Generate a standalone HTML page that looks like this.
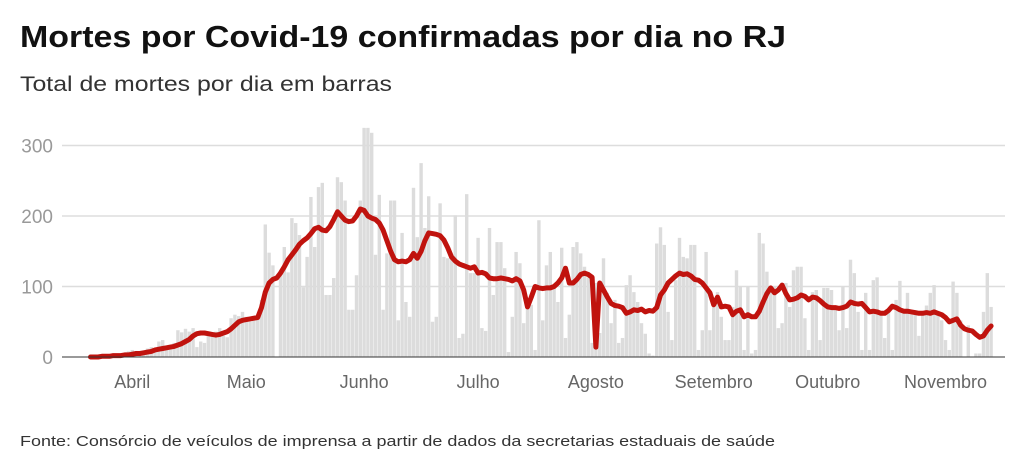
<!DOCTYPE html>
<html><head><meta charset="utf-8">
<style>
body{margin:0;background:#fff;}
svg{display:block;font-family:"Liberation Sans",sans-serif;}
</style></head>
<body>
<svg id="chart" width="1024" height="470">
<text x="20" y="47" font-size="31" font-weight="bold" fill="#111" textLength="766" lengthAdjust="spacingAndGlyphs">Mortes por Covid-19 confirmadas por dia no RJ</text>
<text x="20" y="91" font-size="21" fill="#333" textLength="372" lengthAdjust="spacingAndGlyphs">Total de mortes por dia em barras</text>
<g id="grid"></g><g id="bars"></g><g id="line"></g><g id="axes"></g>
<text x="20" y="446" font-size="15" fill="#333" textLength="755" lengthAdjust="spacingAndGlyphs">Fonte: Consórcio de veículos de imprensa a partir de dados da secretarias estaduais de saúde</text>
</svg>
<script>
const yTicks=[0,100,200,300];
const months=["Abril","Maio","Junho","Julho","Agosto","Setembro","Outubro","Novembro"];
const monthStartDay=[18,48,79,109,140,171,201,232];
const deaths=[0,0,0,0,0,0,0,1,0,1,1,0,1,2,1,2,3,
8,10,6,5,7,12,14,9,22,24,11,15,20,
38,35,40,36,41,14,22,20,35,33,36,41,
30,28,55,60,58,64,57,50,56,58,
81,188,148,130,0,116,156,120,
197,190,173,99,142,227,156,241,247,88,
88,112,255,248,222,67,67,116,222,325,
325,318,145,230,
67,147,222,222,52,176,78,57,240,170,
275,183,228,50,57,218,142,140,140,201,
27,33,231,119,119,169,41,37,183,88,
163,163,126,7,57,149,133,48,74,74,
10,194,52,130,149,102,78,155,27,60,
156,163,147,128,113,20,105,34,140,91,
48,81,20,27,102,116,92,78,48,33,
5,2,161,184,159,64,24,109,169,142,
140,159,159,10,38,149,38,71,92,57,
24,24,71,123,100,10,100,5,10,176,
161,121,95,100,41,48,105,71,123,128,
128,55,10,92,95,24,98,98,95,71,
38,100,41,138,119,64,10,91,10,109,
113,60,27,64,10,81,108,64,91,60,
64,30,64,73,91,102,64,52,24,10,
107,91,52,0,45,0,5,5,64,119,
71];
const avgStartDay=7;
const avg=[0,0,0,1,1,1,2,2,2,3,
3,4,5,5,6,7,8,10,11,12,
13,14,15,17,19,22,25,30,33,34,
34,33,32,31,32,34,36,40,45,50,
52,53,54,55,56,70,92,105,110,112,
119,128,138,145,152,160,165,169,175,182,
184,180,179,185,195,206,200,194,192,193,
200,210,208,200,197,195,190,180,165,150,
138,135,136,135,138,147,140,150,165,176,
175,174,172,166,155,142,136,132,130,128,
126,128,119,120,118,112,111,111,112,111,
110,108,111,108,95,71,85,100,98,97,
98,98,100,105,112,126,105,105,110,117,
119,117,113,14,105,95,85,76,73,72,
70,62,64,67,66,68,64,66,65,70,
88,95,105,110,115,119,117,118,115,110,
109,105,98,91,74,85,71,72,71,60,
65,67,57,60,57,57,65,78,90,98,
91,95,102,90,81,82,84,88,86,81,
85,84,80,75,71,70,70,69,70,72,
78,76,75,76,70,64,65,64,62,62,
66,72,70,67,65,65,64,63,62,62,
63,62,64,62,60,56,50,52,54,45,
40,38,37,32,28,30,38,44];

const NS="http://www.w3.org/2000/svg";
const X0=62,DAYW=3.8,Y0=357,YS=0.705,XR=1005;
const x=d=>X0+(d+0.5)*DAYW;
const y=v=>Y0-v*YS;
function mk(tag,attrs,parent){const e=document.createElementNS(NS,tag);for(const k in attrs)e.setAttribute(k,attrs[k]);parent.appendChild(e);return e;}
const grid=document.getElementById('grid'),bars=document.getElementById('bars'),line=document.getElementById('line'),axes=document.getElementById('axes');
yTicks.forEach(t=>{
  const l=mk('line',{x1:X0,x2:XR,y1:y(t),y2:y(t),stroke:t===0?'#333':'#ddd','stroke-width':t===0?1:1.5},t===0?axes:grid);
  
  
  const tx=mk('text',{x:53,y:y(t)+7,'text-anchor':'end','font-size':19,fill:'#999'},axes);
  tx.textContent=t;
  
  
});
deaths.forEach((v,i)=>{
  if(v<=0)return;
  const r=mk('rect',{x:x(i)-1.7,y:y(v),width:3.4,height:v*YS,fill:'#dcdcdc'},bars);
  
  
});
const pts=avg.map((v,i)=>x(i+avgStartDay).toFixed(1)+','+y(v).toFixed(1)).join(' ');
const pl=mk('polyline',{points:pts,fill:'none',stroke:'#c0130e','stroke-width':5,'stroke-linejoin':'round','stroke-linecap':'round'},line);


months.forEach((m,i)=>{
  const t=mk('text',{x:x(monthStartDay[i]),y:388,'text-anchor':'middle','font-size':18,fill:'#666'},axes);
  t.textContent=m;
  
  
});
</script>
</body></html>
